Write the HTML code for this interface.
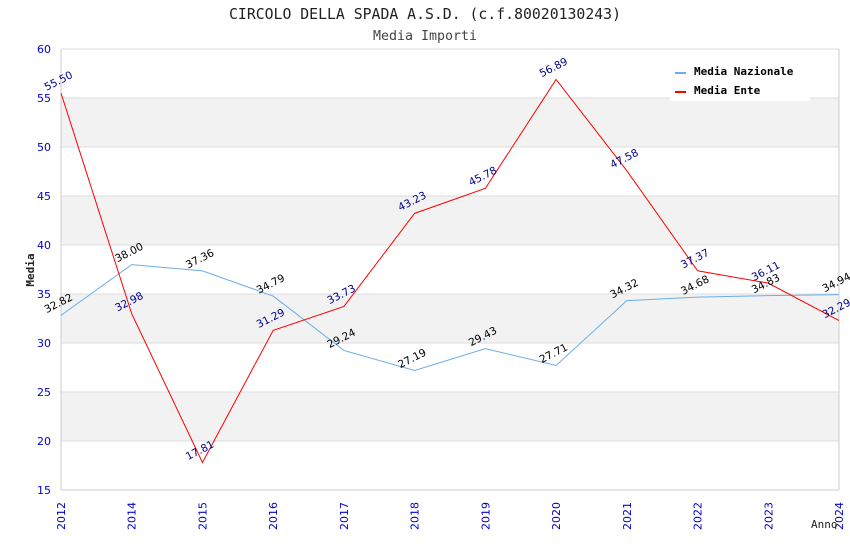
<!DOCTYPE html>
<html><head><meta charset="utf-8"><style>
body{margin:0;background:#fff;}
svg{display:block;}
</style></head><body>
<svg id="chart" width="850" height="550" xmlns="http://www.w3.org/2000/svg">
<rect width="850" height="550" fill="#fff"/>
<text x="425" y="19" text-anchor="middle" font-family="'DejaVu Sans Mono','Liberation Mono',monospace" font-size="14.8" fill="#222">CIRCOLO DELLA SPADA A.S.D. (c.f.80020130243)</text>
<text x="425" y="40" text-anchor="middle" font-family="'DejaVu Sans Mono','Liberation Mono',monospace" font-size="13.3" fill="#444">Media Importi</text>
<g id="bands"></g><g id="grid"></g><g id="axes"></g><g id="series"></g><g id="labels"></g>
<text transform="translate(34,270) rotate(-90)" text-anchor="middle" font-family="'DejaVu Sans Mono',monospace" font-size="11" font-weight="bold" fill="#222">Media</text>
<text x="811" y="528" font-family="'DejaVu Sans Mono',monospace" font-size="11" fill="#222">Anno</text>
<g>
<rect x="670" y="58" width="140" height="43" fill="#fff"/>
<line x1="675" y1="73" x2="686" y2="73" stroke="#6aaeea" stroke-width="2"/>
<text x="694" y="75" font-family="'DejaVu Sans Mono',monospace" font-size="11" font-weight="bold" fill="#000">Media Nazionale</text>
<line x1="675" y1="92" x2="686" y2="92" stroke="#f00" stroke-width="2"/>
<text x="694" y="94" font-family="'DejaVu Sans Mono',monospace" font-size="11" font-weight="bold" fill="#000">Media Ente</text>
</g>
</svg>
<script>
const years=["2012","2014","2015","2016","2017","2018","2019","2020","2021","2022","2023","2024"];
const nazionale=[32.82,38.00,37.36,34.79,29.24,27.19,29.43,27.71,34.32,34.68,34.83,34.94];
const ente=[55.50,32.98,17.81,31.29,33.73,43.23,45.78,56.89,47.58,37.37,36.11,32.29];
const yTicks=[15,20,25,30,35,40,45,50,55,60];
const NS="http://www.w3.org/2000/svg";
const L=61,R=839,T=49,B=490,yMin=15,yMax=60;
const xs=i=>L+i*(R-L)/(years.length-1);
const ys=v=>B-(v-yMin)/(yMax-yMin)*(B-T);
function mk(tag,attrs,parent){const e=document.createElementNS(NS,tag);for(const k in attrs)e.setAttribute(k,attrs[k]);document.getElementById(parent).appendChild(e);return e;}
for(let i=0;i<yTicks.length-1;i++){
  if(i%2===1){const r=mk('rect',{x:L,y:ys(yTicks[i+1]),width:R-L,height:ys(yTicks[i])-ys(yTicks[i+1]),fill:'#f2f2f2'},'bands');
  
  }
}
yTicks.forEach(t=>{
  const l=mk('line',{x1:L,x2:R,y1:ys(t),y2:ys(t),stroke:'#ddd','stroke-width':1},'grid');
  
  
  const tx=mk('text',{x:L-10,y:ys(t)+4,'text-anchor':'end','font-family':"'DejaVu Sans',sans-serif",'font-size':11,fill:'#00c'},'axes');
  tx.textContent=t;
  
  
});
mk('line',{x1:L,x2:L,y1:T,y2:B,stroke:'#ccc'},'axes');
mk('line',{x1:R,x2:R,y1:T,y2:B,stroke:'#ccc'},'axes');
mk('line',{x1:L,x2:R,y1:B,y2:B,stroke:'#ccc'},'axes');
years.forEach((y,i)=>{
  const tx=mk('text',{transform:`translate(${xs(i)+4},${B+40}) rotate(-90)`,'font-family':"'DejaVu Sans',sans-serif",'font-size':11,fill:'#00c'},'axes');
  tx.textContent=y;
  
  
});
function series(data,color,lblColor,name){
  const p=mk('polyline',{points:data.map((v,i)=>xs(i)+','+ys(v)).join(' '),fill:'none',stroke:color,'stroke-width':1},'series');
  
  
  data.forEach((v,i)=>{
    const t=mk('text',{transform:`translate(${xs(i)-1},${ys(v)-9}) rotate(-27)`,'text-anchor':'middle','font-family':"'DejaVu Sans',sans-serif",'font-size':10.5,fill:lblColor},'labels');
    t.textContent=v.toFixed(2);
    
    
  });
}
series(nazionale,'#6aaeea','#000','nazionale-line');
series(ente,'#f00','#00008b','ente-line');
</script>
</body></html>
